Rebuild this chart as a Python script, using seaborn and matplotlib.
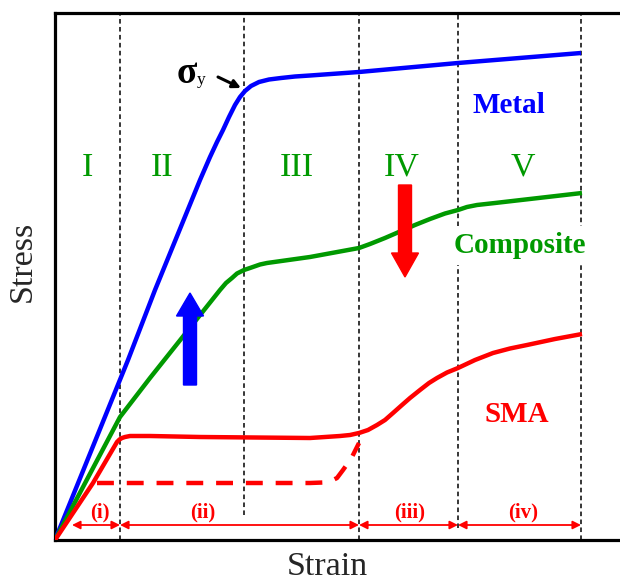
import matplotlib
matplotlib.use("Agg")
import matplotlib.pyplot as plt
import seaborn as sns
import pandas as pd

# Stress-strain curves (arbitrary units)
metal_strain = [0.00, 0.73, 1.00, 1.45, 1.55, 1.62, 1.68, 1.74, 1.80, 1.85, 1.90, 1.96, 2.04, 2.14,
                2.26, 2.40, 2.55, 3.04, 4.03, 5.26]
metal_stress = [0.00, 1.80, 2.50, 3.60, 3.83, 3.98, 4.10, 4.23, 4.35, 4.43, 4.49, 4.54, 4.58, 4.605,
                4.62, 4.635, 4.645, 4.68, 4.77, 4.87]

composite_strain = [0.00, 0.65, 0.95, 1.65, 1.71, 1.77, 1.82, 1.89, 1.95, 2.05, 2.12, 2.55, 3.04,
                    3.15, 3.30, 3.45, 3.60, 3.75, 3.90, 4.03, 4.12, 4.22, 4.40, 5.27]
composite_stress = [0.00, 1.23, 1.62, 2.50, 2.57, 2.62, 2.665, 2.70, 2.72, 2.755, 2.77, 2.83, 2.92,
                    2.96, 3.02, 3.085, 3.15, 3.21, 3.265, 3.30, 3.33, 3.35, 3.37, 3.47]

sma_strain = [0.00, 0.38, 0.62, 0.645, 0.67, 0.70, 0.75, 0.95, 1.45, 2.55, 2.85, 2.95, 3.04, 3.13,
              3.22, 3.30, 3.38, 3.47, 3.55, 3.65, 3.74, 3.82, 3.92, 4.03, 4.20, 4.38, 4.55, 4.72,
              5.00, 5.27]
sma_stress = [0.00, 0.57, 0.98, 1.005, 1.02, 1.03, 1.04, 1.04, 1.03, 1.02, 1.04, 1.05, 1.07, 1.10,
              1.15, 1.20, 1.27, 1.35, 1.42, 1.50, 1.57, 1.62, 1.675, 1.72, 1.80, 1.87, 1.915, 1.95,
              2.01, 2.06]

sma_plateau_strain = [0.42, 2.55, 2.68, 2.75, 2.82, 2.88, 2.93, 2.97, 3.04]
sma_plateau_stress = [0.57, 0.57, 0.575, 0.585, 0.62, 0.70, 0.77, 0.83, 0.97]

# Stage boundaries and labels
region_edges = [0.65, 1.89, 3.04, 4.03, 5.26]
region_line_bottom = [0.0, 0.25, 0.0, 0.12, 0.0]
stage_labels = ["I", "II", "III", "IV", "V"]
stage_x = [0.32, 1.07, 2.42, 3.47, 4.68]

sma_stage_labels = ["(i)", "(ii)", "(iii)", "(iv)"]
sma_stage_spans = [(0.17, 0.65), (0.65, 3.04), (3.04, 4.03), (4.03, 5.26)]
sma_stage_x = [0.45, 1.48, 3.55, 4.68]

BLUE, GREEN, RED = "#0000ff", "#009900", "#ff0000"

sns.set_theme(style="white")
plt.rcParams["font.family"] = ["Liberation Serif", "DejaVu Serif"]

fig = plt.figure(figsize=(6.2, 5.81), dpi=100)
ax = fig.add_axes([55 / 620, 41 / 581, 565 / 620, 527 / 581])
ax.set_xlim(0, 5.65)
ax.set_ylim(0, 5.27)

# Stage boundaries
y_top = 5.27
for xe, yb in zip(region_edges, region_line_bottom):
    ax.plot([xe, xe], [yb, y_top], color="black", lw=1.1, dashes=(3, 2.2), zorder=1)

# Curves
curves = pd.concat([
    pd.DataFrame({"strain": metal_strain, "stress": metal_stress, "material": "Metal"}),
    pd.DataFrame({"strain": composite_strain, "stress": composite_stress, "material": "Composite"}),
    pd.DataFrame({"strain": sma_strain, "stress": sma_stress, "material": "SMA"}),
])
sns.lineplot(data=curves, x="strain", y="stress", hue="material",
             palette={"Metal": BLUE, "Composite": GREEN, "SMA": RED},
             lw=3.2, legend=False, ax=ax, zorder=3, sort=False,
             solid_joinstyle="round", solid_capstyle="butt")
sns.lineplot(x=sma_plateau_strain, y=sma_plateau_stress, color=RED, lw=3.2,
             ax=ax, zorder=3, sort=False)
ax.lines[-1].set_dashes((3.8, 2.9))

# Stage numerals
for lab, xs in zip(stage_labels, stage_x):
    ax.text(xs, 3.64, lab, color=GREEN, fontsize=24.5, ha="center", va="baseline")

# Material labels
ax.text(4.54, 4.27, "Metal", color=BLUE, fontsize=21, fontweight="bold", ha="center", va="baseline")
ax.text(4.65, 2.87, "Composite", color=GREEN, fontsize=21, fontweight="bold", ha="center",
        va="baseline", bbox=dict(facecolor="white", edgecolor="none", pad=4), zorder=2)
ax.text(4.62, 1.18, "SMA", color=RED, fontsize=21, fontweight="bold", ha="center", va="baseline")

# Yield point marker
ax.text(1.22, 4.57, "σ", color="black", fontsize=27, fontweight="bold", ha="left", va="baseline")
ax.text(1.42, 4.555, "y", color="black", fontsize=12.5, ha="left", va="baseline")
ax.annotate("", xy=(1.86, 4.52), xytext=(1.63, 4.63),
            arrowprops=dict(arrowstyle="-|>", color="black", lw=2.2, mutation_scale=12,
                            shrinkA=0, shrinkB=0))

# Trend arrows
ax.arrow(1.35, 1.55, 0, 0.92, width=0.13, head_width=0.27, head_length=0.23,
         length_includes_head=True, color=BLUE, zorder=4)
ax.arrow(3.50, 3.55, 0, -0.92, width=0.13, head_width=0.27, head_length=0.24,
         length_includes_head=True, color=RED, zorder=4)

# SMA stage spans
for lab, (x0, x1), xl in zip(sma_stage_labels, sma_stage_spans, sma_stage_x):
    ax.annotate("", xy=(x1, 0.15), xytext=(x0, 0.15),
                arrowprops=dict(arrowstyle="<|-|>", color=RED, lw=1.3, mutation_scale=12,
                                shrinkA=0, shrinkB=0))
    ax.text(xl, 0.28, lab, color=RED, fontsize=15, fontweight="bold", ha="center", va="center")

# Axes frame
ax.set_xticks([])
ax.set_yticks([])
for side in ("left", "bottom", "top"):
    ax.spines[side].set_linewidth(2.3)
    ax.spines[side].set_color("black")
ax.spines["right"].set_visible(False)

ax.set_xlabel("Strain", fontsize=24.5, va="baseline")
ax.xaxis.set_label_coords(0.482, -0.066)
ax.set_ylabel("Stress", fontsize=24.5, va="center")
ax.yaxis.set_label_coords(-0.057, 0.528)

fig.savefig("out.png", dpi=100)
